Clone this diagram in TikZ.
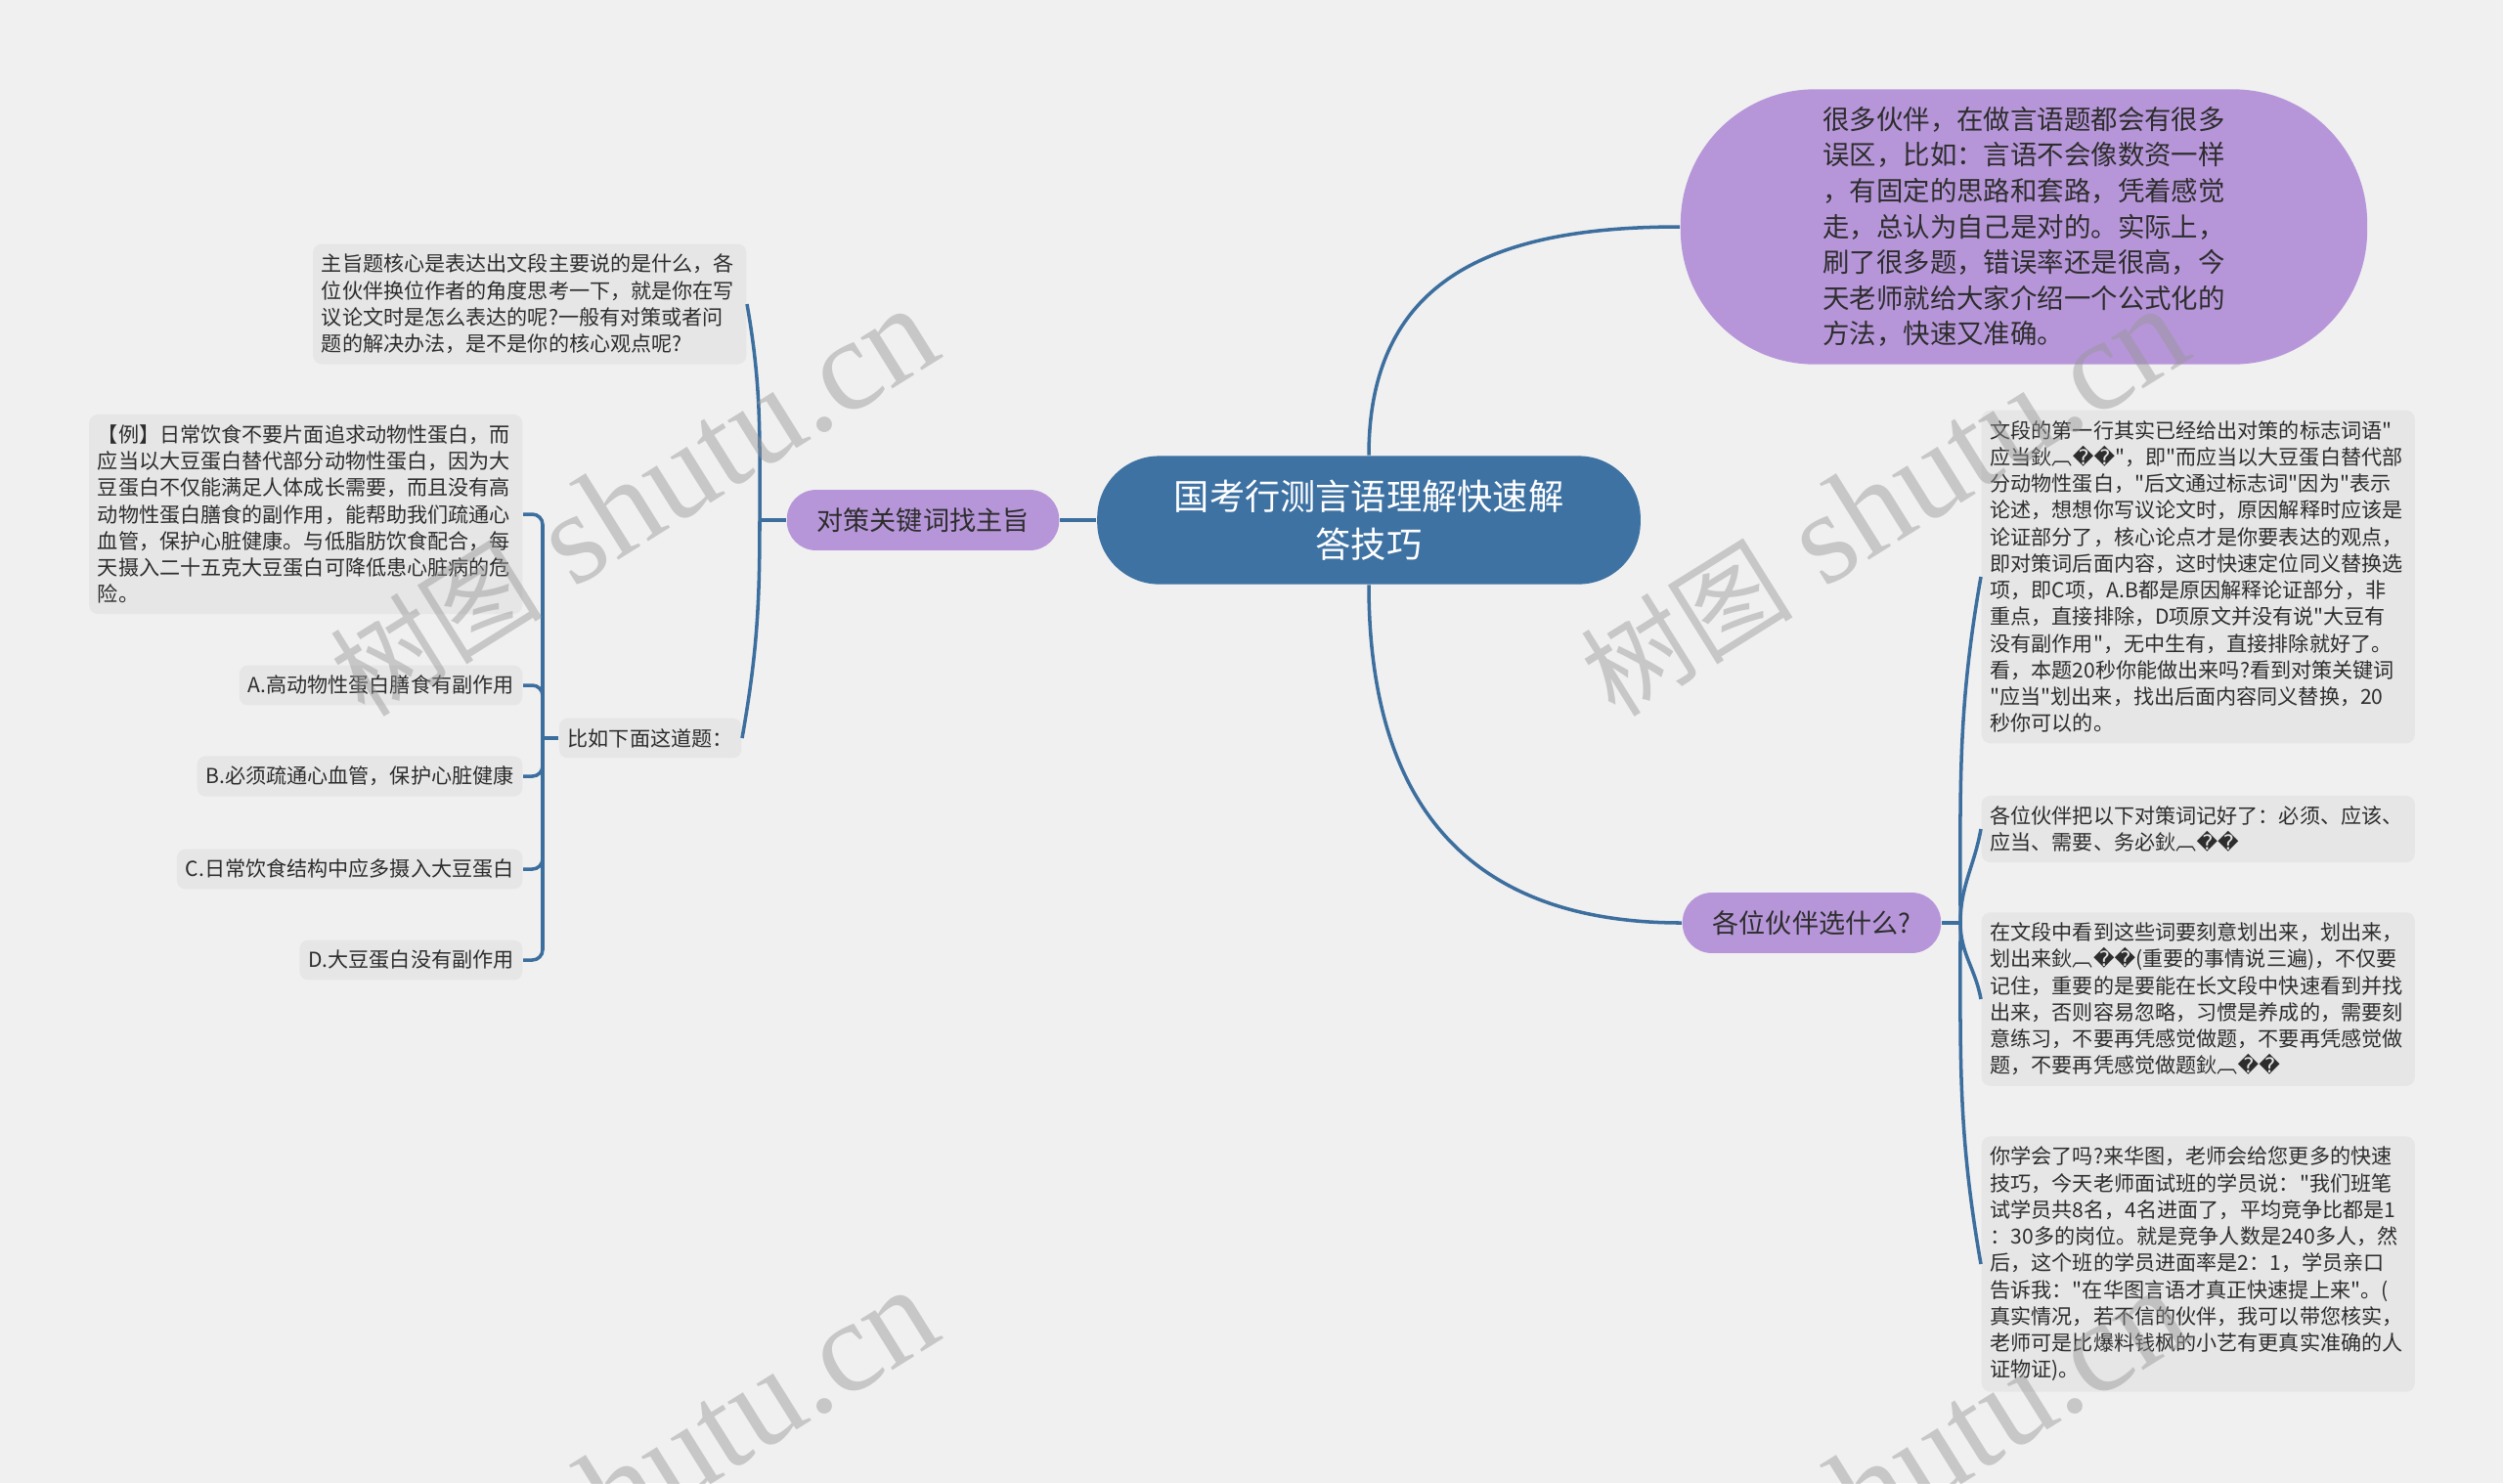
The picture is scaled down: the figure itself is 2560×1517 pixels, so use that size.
\documentclass[tikz,border=0pt]{standalone}
\usepackage{fontspec}
\setmainfont{Noto Sans CJK SC}[Ligatures=TeXOff]
\newfontfamily\wmserif{Liberation Serif}
\newfontfamily\replfont{DejaVu Sans}
\usetikzlibrary{calc}

\definecolor{bgpaper}{RGB}{240,240,240}
\definecolor{notegray}{RGB}{230,230,230}
\definecolor{rootblue}{RGB}{62,114,163}
\definecolor{topicpurple}{RGB}{182,150,217}
\definecolor{linkblue}{RGB}{60,110,158}
\definecolor{inkdark}{RGB}{45,45,45}
\definecolor{wmgray}{RGB}{150,150,150}

\newcommand{\garbled}{鈥︹{\replfont ^^^^fffd^^^^fffd}}

\begin{document}
\begin{tikzpicture}[
  x=0.01cm, y=-0.01cm,
  link/.style={draw=linkblue, line width=1pt},
  rootnode/.style={fill=rootblue, text=white, rounded corners=18pt, minimum width=158pt,
    minimum height=37.3pt, align=center, font=\fontsize{10.3pt}{14pt}\selectfont},
  intronode/.style={fill=topicpurple, text=inkdark, rounded corners=39pt, minimum width=199.7pt,
    minimum height=80pt, align=left, font=\fontsize{7.8pt}{10.4pt}\selectfont},
  topicnode/.style={fill=topicpurple, text=inkdark, rounded corners=8.5pt, minimum height=17.6pt,
    inner xsep=8.8pt, font=\fontsize{7.7pt}{9pt}\selectfont},
  notenode/.style={fill=notegray, text=inkdark, rounded corners=2.5pt, inner xsep=2.5pt,
    inner ysep=3pt, align=left, font=\fontsize{6pt}{7.75pt}\selectfont},
  wideleaf/.style={notenode, text width=121pt},
  watermark/.style={text=wmgray, opacity=0.45, rotate=32, inner sep=0pt,
    font=\fontsize{38pt}{40pt}\wmserif}
]
\useasboundingbox (0,0) rectangle (2560,1517);
\fill[bgpaper] (0,0) rectangle (2560,1517);

\def\leftcol{535}
\def\rightcol{2026}

% Root and the three main branches.
\node[rootnode] (root) at (1400,532) {国考行测言语理解快速解\\答技巧};
\node[intronode] (intro) at (2070,232)
  {很多伙伴，在做言语题都会有很多\\误区，比如：言语不会像数资一样\\，有固定的思路和套路，凭着感觉\\走，总认为自己是对的。实际上，\\刷了很多题，错误率还是很高，今\\天老师就给大家介绍一个公式化的\\方法，快速又准确。};
\node[topicnode] (key) at (944,532) {对策关键词找主旨};
\node[topicnode] (pick) at (1853,944) {各位伙伴选什么?};

\draw[link] (root.west) -- (key.east);
\draw[link] (root.north) to[out=90, in=180, looseness=1.2] (intro.west);
\draw[link] (root.south) to[out=-90, in=180, looseness=1.2] (pick.west);

% Left branch.
\node[wideleaf, anchor=east] (gist) at (764,311)
  {主旨题核心是表达出文段主要说的是什么，各\\位伙伴换位作者的角度思考一下，就是你在写\\议论文时是怎么表达的呢?一般有对策或者问\\题的解决办法，是不是你的核心观点呢?};
\node[notenode, anchor=east] (ask) at (759,755) {比如下面这道题：};

\coordinate (keyjoin) at (777,532);
\draw[link] (key.west) -- (keyjoin);
\draw[link] (keyjoin) to[out=90, in=-80] (gist.east);
\draw[link] (keyjoin) to[out=-90, in=80] (ask.east);

% The example question and its options.
\node[wideleaf, anchor=east] (sample) at (\leftcol,526)
  {【例】日常饮食不要片面追求动物性蛋白，而\\应当以大豆蛋白替代部分动物性蛋白，因为大\\豆蛋白不仅能满足人体成长需要，而且没有高\\动物性蛋白膳食的副作用，能帮助我们疏通心\\血管，保护心脏健康。与低脂肪饮食配合，每\\天摄入二十五克大豆蛋白可降低患心脏病的危\\险。};
\node[notenode, anchor=east] (opt-a) at (\leftcol,701) {A.高动物性蛋白膳食有副作用};
\node[notenode, anchor=east] (opt-b) at (\leftcol,794) {B.必须疏通心血管，保护心脏健康};
\node[notenode, anchor=east] (opt-c) at (\leftcol,889) {C.日常饮食结构中应多摄入大豆蛋白};
\node[notenode, anchor=east] (opt-d) at (\leftcol,982) {D.大豆蛋白没有副作用};

\coordinate (askjoin) at (555,755);
\draw[link] (ask.west) -- (askjoin);
\foreach \leaf in {sample,opt-a,opt-b,opt-c,opt-d}
  \draw[link, rounded corners=3pt] (askjoin) |- (\leaf.east);

% Right branch.
\node[wideleaf, anchor=west] (reason) at (\rightcol,590)
  {文段的第一行其实已经给出对策的标志词语"\\应当\garbled"，即"而应当以大豆蛋白替代部\\分动物性蛋白，"后文通过标志词"因为"表示\\论述，想想你写议论文时，原因解释时应该是\\论证部分了，核心论点才是你要表达的观点，\\即对策词后面内容，这时快速定位同义替换选\\项，即C项，A.B都是原因解释论证部分，非\\重点，直接排除，D项原文并没有说"大豆有\\没有副作用"，无中生有，直接排除就好了。\\看，本题20秒你能做出来吗?看到对策关键词\\"应当"划出来，找出后面内容同义替换，20\\秒你可以的。};
\node[wideleaf, anchor=west] (words) at (\rightcol,848)
  {各位伙伴把以下对策词记好了：必须、应该、\\应当、需要、务必\garbled};
\node[wideleaf, anchor=west] (mark) at (\rightcol,1022)
  {在文段中看到这些词要刻意划出来，划出来，\\划出来\garbled(重要的事情说三遍)，不仅要\\记住，重要的是要能在长文段中快速看到并找\\出来，否则容易忽略，习惯是养成的，需要刻\\意练习，不要再凭感觉做题，不要再凭感觉做\\题，不要再凭感觉做题\garbled};
\node[wideleaf, anchor=west] (promo) at (\rightcol,1293)
  {你学会了吗?来华图，老师会给您更多的快速\\技巧，今天老师面试班的学员说："我们班笔\\试学员共8名，4名进面了，平均竞争比都是1\\：30多的岗位。就是竞争人数是240多人，然\\后，这个班的学员进面率是2：1，学员亲口\\告诉我："在华图言语才真正快速提上来"。(\\真实情况，若不信的伙伴，我可以带您核实，\\老师可是比爆料钱枫的小艺有更真实准确的人\\证物证)。};

\coordinate (pickjoin) at (2005,944);
\draw[link] (pick.east) -- (pickjoin);
\draw[link] (pickjoin) to[out=90, in=-100] (reason.west);
\draw[link] (pickjoin) to[out=90, in=-100] (words.west);
\draw[link] (pickjoin) to[out=-90, in=100] (mark.west);
\draw[link] (pickjoin) to[out=-90, in=100] (promo.west);

% Watermarks.
\begin{scope}
\clip (0,0) rectangle (2560,1517);
\foreach \wx/\wy [count=\i] in {648/514, 1927/514, 648/1518, 1927/1518}
  \node[watermark] (wm-\i) at (\wx,\wy)
    {{\normalfont\fontsize{31pt}{33pt}\selectfont 树图} shutu.cn};
\end{scope}
\end{tikzpicture}
\end{document}
